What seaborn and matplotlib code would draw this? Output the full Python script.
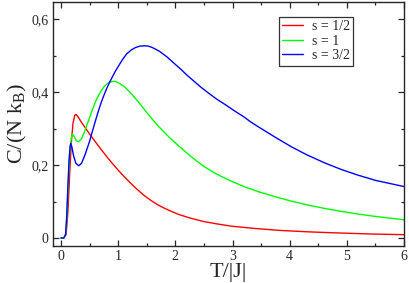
import pandas as pd
import numpy as np
import matplotlib
matplotlib.use("Agg")
import matplotlib.pyplot as plt
from matplotlib.ticker import MultipleLocator
import seaborn as sns

# values
t_half = [0, 0.05, 0.09, 0.12, 0.15, 0.18, 0.21, 0.24, 0.26, 0.3, 0.35, 0.42, 0.5, 0.6, 0.7, 0.8, 0.9,
          1.0, 1.1, 1.2, 1.32, 1.45, 1.6, 1.75, 1.9, 2.05, 2.25, 2.5, 2.75, 3.0, 3.4, 3.8, 4.3, 4.8, 5.4, 6.0]
c_half = [0, 0, 0.01, 0.07, 0.17, 0.26, 0.315, 0.336, 0.339, 0.332, 0.319, 0.303, 0.285, 0.264, 0.243, 0.223, 0.204,
          0.186, 0.169, 0.153, 0.135, 0.117, 0.1, 0.086, 0.075, 0.065, 0.055, 0.045, 0.038, 0.032, 0.026, 0.021, 0.017, 0.014, 0.011, 0.009]

t_one = [0, 0.05, 0.08, 0.10, 0.12, 0.15, 0.18, 0.20, 0.23, 0.27, 0.31, 0.36, 0.42, 0.5, 0.55, 0.6, 0.65, 0.7, 0.75,
         0.8, 0.85, 0.9, 0.95, 1.0, 1.1, 1.2, 1.3, 1.4, 1.5, 1.6, 1.7, 1.8, 1.9, 2.02, 2.15, 2.3, 2.49, 2.7, 2.96,
         3.2, 3.45, 3.75, 4.03, 4.3, 4.61, 4.9, 5.18, 5.5, 6.0]
c_one = [0, 0, 0.01, 0.05, 0.13, 0.23, 0.275, 0.285, 0.278, 0.266, 0.264, 0.272, 0.295, 0.33, 0.352, 0.372, 0.389, 0.403, 0.414,
         0.422, 0.427, 0.429, 0.429, 0.426, 0.416, 0.401, 0.383, 0.364, 0.344, 0.325, 0.307, 0.291, 0.275, 0.258, 0.24, 0.22, 0.197, 0.177, 0.157,
         0.141, 0.127, 0.113, 0.101, 0.091, 0.081, 0.073, 0.066, 0.059, 0.05]

t_three_half = [0, 0.05, 0.08, 0.10, 0.12, 0.14, 0.16, 0.17, 0.19, 0.22, 0.26, 0.31, 0.36, 0.42, 0.5, 0.55, 0.6, 0.65, 0.7,
                0.75, 0.8, 0.85, 0.9, 0.95, 1.0, 1.075, 1.15, 1.225, 1.3, 1.38, 1.46, 1.53, 1.6, 1.72, 1.85, 1.97, 2.1,
                2.2, 2.31, 2.45, 2.6, 2.73, 2.87, 3.03, 3.2, 3.32, 3.45, 3.75, 4.03, 4.3, 4.61, 4.9, 5.18, 5.5, 6.0]
c_three_half = [0, 0, 0.01, 0.06, 0.14, 0.21, 0.252, 0.259, 0.25, 0.225, 0.205, 0.198, 0.205, 0.228, 0.265, 0.293, 0.32, 0.346, 0.37,
                0.391, 0.41, 0.427, 0.442, 0.457, 0.47, 0.489, 0.505, 0.515, 0.522, 0.526, 0.527, 0.526, 0.522, 0.512, 0.497, 0.48, 0.462,
                0.447, 0.432, 0.413, 0.395, 0.38, 0.366, 0.349, 0.332, 0.318, 0.305, 0.276, 0.25, 0.228, 0.206, 0.188, 0.173, 0.158, 0.141]

series_names = ["s = 1/2", "s = 1", "s = 3/2"]
series_colors = ["#ff0000", "#00ff00", "#0000ff"]

x_ticks = [0, 1, 2, 3, 4, 5, 6]
y_ticks = [0, 0.2, 0.4, 0.6]
y_tick_labels = ["0", "0,2", "0,4", "0,6"]


def main():
    frames = []
    for name, t, c in zip(series_names, [t_half, t_one, t_three_half], [c_half, c_one, c_three_half]):
        frames.append(pd.DataFrame({"T": t, "C": c, "spin": name}))
    df = pd.concat(frames, ignore_index=True)

    sns.set_style("ticks")
    plt.rcParams["font.family"] = ["Liberation Serif", "DejaVu Serif"]
    plt.rcParams["mathtext.fontset"] = "custom"
    plt.rcParams["mathtext.rm"] = "Liberation Serif"
    plt.rcParams["mathtext.it"] = "Liberation Serif"

    fig = plt.figure(figsize=(4.09, 2.83), dpi=100)
    ax = fig.add_axes([53 / 409, 1 - 246 / 283, (404 - 53) / 409, (246 - 2) / 283])

    sns.lineplot(data=df, x="T", y="C", hue="spin", palette=dict(zip(series_names, series_colors)),
                 hue_order=series_names, linewidth=1.0, sort=False, estimator=None, ax=ax)

    ax.set_xlim(-0.14, 6.0)
    ax.set_ylim(-0.022, 0.647)
    ax.set_xticks(x_ticks)
    ax.set_yticks(y_ticks)
    ax.set_yticklabels(y_tick_labels)
    ax.xaxis.set_minor_locator(MultipleLocator(0.5))
    ax.yaxis.set_minor_locator(MultipleLocator(0.1))
    ax.tick_params(which="both", direction="in", top=True, right=True, labelsize=10, width=0.9, pad=3)
    ax.tick_params(which="major", length=4.5)
    ax.tick_params(which="minor", length=2.5)
    for sp in ax.spines.values():
        sp.set_linewidth(1.0)

    ax.set_xlabel("T/|J|", fontsize=16, labelpad=0)
    ax.set_ylabel(r"C/(N k$_\mathrm{B}$)", fontsize=16, labelpad=2)

    leg = ax.legend(loc="upper right", bbox_to_anchor=(0.855, 0.939), fontsize=10, frameon=True,
                    fancybox=False, edgecolor="black", handlelength=1.5, handletextpad=0.6,
                    borderpad=0.25, labelspacing=0.1, borderaxespad=0)
    leg.get_frame().set_linewidth(0.9)

    fig.savefig("out.png", dpi=100)
    plt.close(fig)


if __name__ == "__main__":
    main()
